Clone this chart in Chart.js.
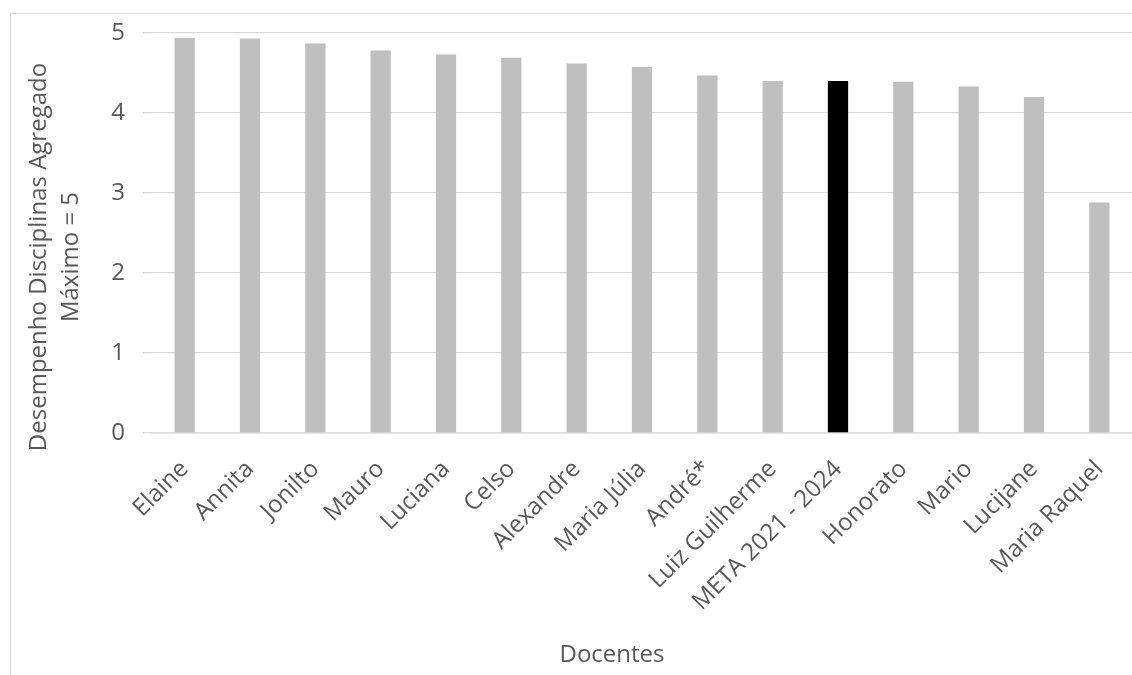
<!DOCTYPE html>
<html lang="pt">
<head>
<meta charset="utf-8">
<title>Desempenho Disciplinas Agregado</title>
<script src="https://cdn.jsdelivr.net/npm/chart.js@4"></script>
<style>
    html, body { margin: 0; padding: 0; background: #fff; overflow: hidden; }
    #wrap { position: relative; width: 1132px; height: 675px; }
    #frame {
        position: absolute; left: 10px; top: 13px; right: -5px; bottom: -5px;
        border-left: 1px solid #d9d9d9; border-top: 1px solid #d9d9d9;
    }
    #chart { position: absolute; left: 0; top: 0; }
</style>
</head>
<body>
<div id="wrap">
    <div id="frame"></div>
    <canvas id="chart" width="1132" height="675"></canvas>
</div>
<script>
// Chart data
const docentes = ["Elaine", "Annita", "Jonilto", "Mauro", "Luciana", "Celso", "Alexandre",
    "Maria Júlia", "André*", "Luiz Guilherme", "META 2021 - 2024", "Honorato", "Mario",
    "Lucijane", "Maria Raquel"];
const desempenho = [4.94, 4.93, 4.87, 4.78, 4.73, 4.69, 4.62, 4.575, 4.47, 4.40, 4.40, 4.39, 4.33, 4.20, 2.88];
const metaLabel = "META 2021 - 2024";

const yTitleLines = ["Desempenho Disciplinas Agregado", "Máximo = 5"];
const xTitle = "Docentes";

const FONT = "'Open Sans', sans-serif";
const TEXT = "#595959";
const GRID = "#d9d9d9";

// META bar in black, others grey
const barColors = docentes.map(d => d === metaLabel ? "#000000" : "#bfbfbf");

// Axis titles drawn off-centre like the original (Excel centres them on the whole frame)
const axisTitles = {
    id: "axisTitles",
    afterDraw(chart) {
        const ctx = chart.ctx;
        ctx.save();
        ctx.fillStyle = TEXT;
        ctx.font = `24px ${FONT}`;
        ctx.textAlign = "center";
        ctx.textBaseline = "alphabetic";
        ctx.fillText(xTitle, 612, 662);

        ctx.textBaseline = "middle";
        const xs = [39, 71];
        yTitleLines.forEach((line, i) => {
            ctx.save();
            ctx.translate(xs[i], 257);
            ctx.rotate(-Math.PI / 2);
            ctx.fillText(line, 0, 0);
            ctx.restore();
        });
        ctx.restore();
    }
};

new Chart(document.getElementById("chart"), {
    type: "bar",
    data: {
        labels: docentes,
        datasets: [{
            data: desempenho,
            backgroundColor: barColors,
            borderWidth: 0,
            categoryPercentage: 1,
            barPercentage: 0.31
        }]
    },
    options: {
        responsive: false,
        animation: false,
        layout: { padding: { top: 33, right: 0, bottom: 0, left: 0 } },
        plugins: {
            legend: { display: false },
            tooltip: { enabled: false }
        },
        scales: {
            x: {
                grid: { display: false, drawTicks: false },
                border: { display: true, color: GRID, width: 1.5 },
                ticks: {
                    color: TEXT,
                    font: { family: FONT, size: 24 },
                    minRotation: 45,
                    maxRotation: 45,
                    autoSkip: false,
                    padding: 22
                },
                afterFit(scale) {
                    scale.height = 242;
                    // plot runs to the right edge of the picture
                    scale.paddingLeft = 0;
                    scale.paddingRight = 0;
                }
            },
            y: {
                min: 0,
                max: 5,
                grid: { color: GRID, lineWidth: 1.3, tickLength: 9 },
                border: { display: false },
                ticks: {
                    stepSize: 1,
                    color: TEXT,
                    font: { family: FONT, size: 24 },
                    padding: 18
                },
                afterFit(scale) { scale.width = 152; }
            }
        }
    },
    plugins: [axisTitles]
});
</script>
</body>
</html>
